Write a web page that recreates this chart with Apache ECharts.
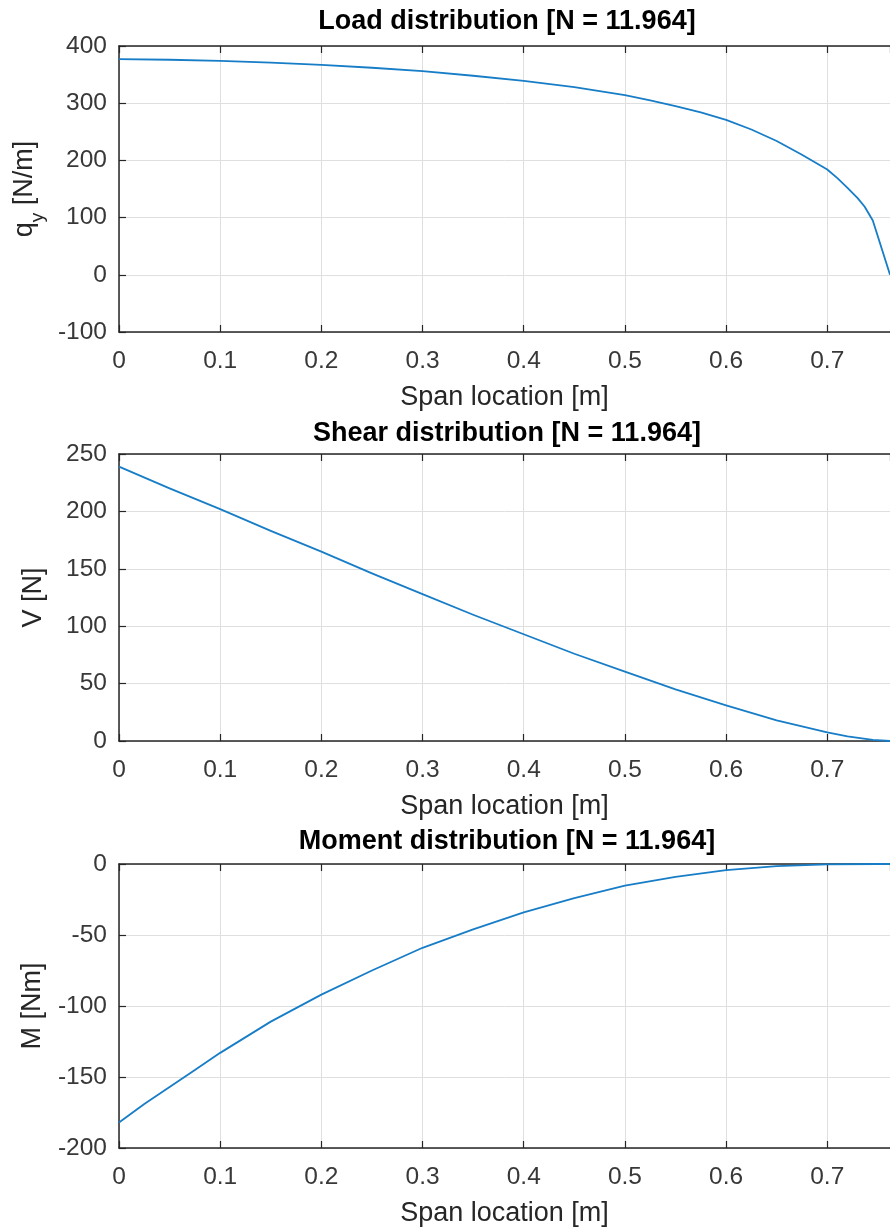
<!DOCTYPE html>
<html>
<head>
<meta charset="utf-8">
<script src="https://cdn.jsdelivr.net/npm/echarts@6/dist/echarts.min.js"></script>
<style>
html,body{margin:0;padding:0;background:#fff;}
#chart{width:890px;height:1231px;}
</style>
</head>
<body>
<div id="chart"></div>
<script>
// ---- data ----
const titles = ['Load distribution [N = 11.964]', 'Shear distribution [N = 11.964]', 'Moment distribution [N = 11.964]'];
const xLabel = 'Span location [m]';

const spanQ = [0, 0.05, 0.1, 0.15, 0.2, 0.25, 0.3, 0.35, 0.4, 0.45, 0.5, 0.525, 0.55, 0.575, 0.6, 0.625, 0.65, 0.675, 0.7, 0.71, 0.72, 0.73, 0.737, 0.745, 0.762];
const loadQ = [377, 376, 374, 371, 367, 362, 356, 348, 339, 328, 314, 305, 295, 284, 271, 254, 234, 210, 184, 169, 152, 134, 119, 95, 0];

const spanV = [0, 0.05, 0.1, 0.15, 0.2, 0.25, 0.3, 0.35, 0.4, 0.45, 0.5, 0.55, 0.6, 0.65, 0.7, 0.72, 0.745, 0.762];
const shearV = [239, 220, 202, 183, 165, 146, 128, 110, 93, 76, 60.5, 45, 31, 18, 7.5, 4, 1, 0];

const spanM = [0, 0.025, 0.05, 0.075, 0.1, 0.15, 0.2, 0.25, 0.3, 0.35, 0.4, 0.45, 0.5, 0.55, 0.6, 0.65, 0.7, 0.75, 0.762];
const momentM = [-182, -169, -157, -145, -133, -111, -92, -75, -59, -46, -34, -24, -15.3, -9, -4.3, -1.5, -0.3, 0, 0];

const yRanges = [[-100, 400, 100], [0, 250, 50], [-200, 0, 50]];
const xRange = [0, 0.762, 0.1];

// ---- styling ----
const FONT = '"Liberation Sans", Arial, Helvetica, sans-serif';
const AXC = '#262626';
const LINEC = '#177dc7';
const grids = [
  {left: 119, right: -9, top: 46, height: 286},
  {left: 119, right: -9, top: 454, height: 287},
  {left: 119, right: -9, top: 864, height: 284}
];
const yNames = ['{a|q}{s|y}{a| [N/m]}', '{a|V [N]}', '{a|M [Nm]}'];
const yGaps = [74, 68, 69];
const titleY = [22, 434, 842];

const xAxes = [], yAxes = [], series = [], graphics = [];
const pairs = [
  spanQ.map((x, i) => [x, loadQ[i]]),
  spanV.map((x, i) => [x, shearV[i]]),
  spanM.map((x, i) => [x, momentM[i]])
];

for (let g = 0; g < 3; g++) {
  xAxes.push({
    type: 'value', gridIndex: g, position: 'bottom',
    min: xRange[0], max: xRange[1], interval: xRange[2],
    name: xLabel, nameLocation: 'middle', nameGap: 52,
    nameTextStyle: {fontFamily: FONT, fontSize: 27, color: AXC},
    axisLine: {show: true, onZero: false, lineStyle: {color: AXC, width: 1.5}},
    axisTick: {show: true, inside: true, length: 7, lineStyle: {color: AXC, width: 1.2}},
    axisLabel: {show: true, showMaxLabel: false, margin: 17, fontFamily: FONT, fontSize: 24.5, color: '#383838'},
    splitLine: {show: true, lineStyle: {color: '#dfdfdf', width: 1}}
  });
  xAxes.push({
    type: 'value', gridIndex: g, position: 'top',
    min: xRange[0], max: xRange[1], interval: xRange[2],
    axisLine: {show: true, onZero: false, lineStyle: {color: AXC, width: 1.5}},
    axisTick: {show: true, inside: true, length: 7, lineStyle: {color: AXC, width: 1.2}},
    axisLabel: {show: false},
    splitLine: {show: false}
  });
  yAxes.push({
    type: 'value', gridIndex: g,
    min: yRanges[g][0], max: yRanges[g][1], interval: yRanges[g][2],
    name: yNames[g], nameLocation: 'middle', nameRotate: 90, nameGap: yGaps[g],
    nameTextStyle: {
      fontFamily: FONT, color: AXC,
      rich: {
        a: {fontFamily: FONT, fontSize: 27, color: AXC, lineHeight: 31, verticalAlign: 'top'},
        s: {fontFamily: FONT, fontSize: 19, color: AXC, lineHeight: 19, verticalAlign: 'top', padding: [17, 0, 0, 0]}
      }
    },
    axisLine: {show: true, onZero: false, lineStyle: {color: AXC, width: 1.5}},
    axisTick: {show: true, inside: true, length: 7, lineStyle: {color: AXC, width: 1.2}},
    axisLabel: {show: true, margin: 12, fontFamily: FONT, fontSize: 24.5, color: '#383838'},
    splitLine: {show: true, lineStyle: {color: '#dfdfdf', width: 1}}
  });
  series.push({
    type: 'line', xAxisIndex: 2 * g, yAxisIndex: g,
    data: pairs[g], showSymbol: false, symbol: 'none',
    smooth: false,
    lineStyle: {color: LINEC, width: 1.8, join: 'round'},
    itemStyle: {color: LINEC},
    clip: true, animation: false
  });
  graphics.push({
    type: 'text', x: 507, y: titleY[g],
    style: {
      text: titles[g], fill: '#000',
      font: 'bold 27px ' + FONT,
      fontFamily: FONT, fontSize: 27, fontWeight: 'bold',
      align: 'center', verticalAlign: 'middle',
      textAlign: 'center', textVerticalAlign: 'middle'
    }
  });
}

const chart = echarts.init(document.getElementById('chart'), null, {renderer: 'canvas', width: 890, height: 1231});
chart.setOption({
  animation: false,
  backgroundColor: '#fff',
  grid: grids,
  xAxis: xAxes,
  yAxis: yAxes,
  series: series,
  graphic: graphics
});
</script>
</body>
</html>
